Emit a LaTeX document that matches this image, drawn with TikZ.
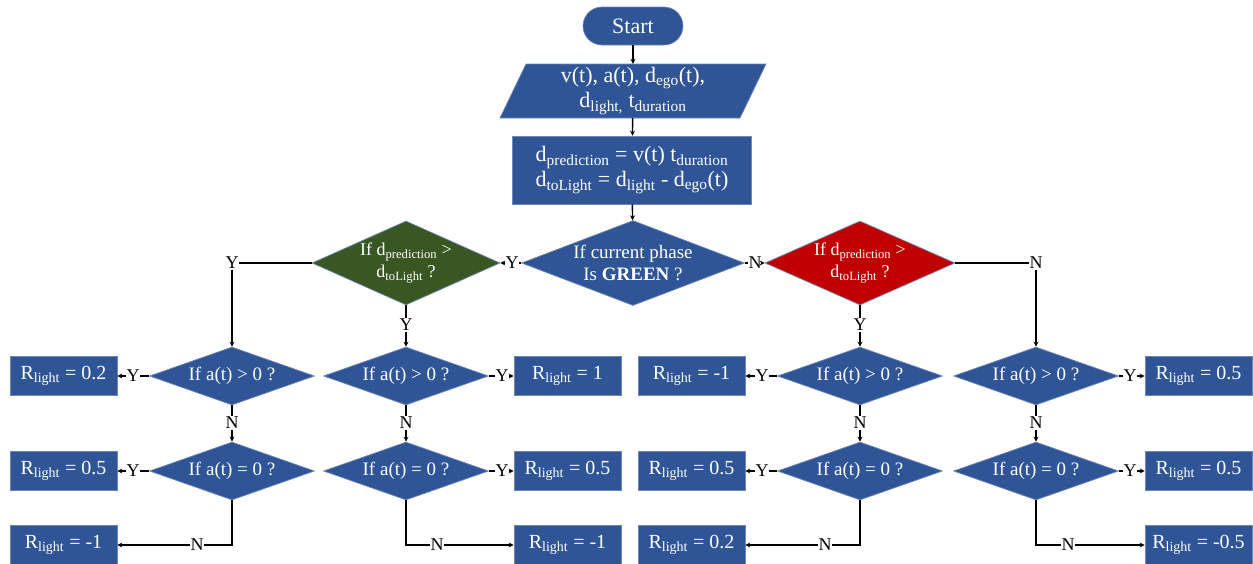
\documentclass[tikz,border=0pt]{standalone}
\usepackage{fontspec}
\setmainfont{Liberation Serif}
\usetikzlibrary{shapes.geometric,arrows.meta}
\definecolor{pblue}{HTML}{2F5597}
\definecolor{pgreen}{HTML}{385723}
\definecolor{pred}{HTML}{C00000}
\definecolor{pedge}{HTML}{6E87B5}
\newcommand{\fs}[2]{\fontsize{#1}{#2}\selectfont}
\newcommand{\sub}[1]{\textsubscript{#1}}
\tikzset{
  shp/.style={draw=pedge, line width=0.7pt, fill=pblue, text=white, inner sep=0pt},
  rbox/.style={shp, minimum width=107pt, minimum height=39pt, font=\fs{20}{22}},
  dia/.style={shp, diamond, minimum width=165pt, minimum height=58pt},
  dtxt/.style={text=white, align=center, font=\fs{19}{22}},
  lbl/.style={fill=white, inner sep=0.6pt, font=\fs{18}{20}},
  ln/.style={line width=1.4pt, draw=black},
  arr/.style={ln, -{Stealth[length=5pt,width=5pt]}},
}
\begin{document}
\begin{tikzpicture}[x=1pt,y=-1pt]
\path[use as bounding box] (0,0) rectangle (1253,563);

% top of the chart
\node[shp, rounded corners=19pt, minimum width=100pt, minimum height=38pt, font=\fs{22}{24}] (start) at (633,26) {Start};
% input parallelogram
\draw[shp] (500,118) -- (740,118) -- (766,64) -- (526,64) -- cycle;
\node[inner sep=0pt, minimum width=240pt, minimum height=54pt, text=white, align=center, font=\fs{22}{25}] (inp) at (633,91)
  {v(t), a(t), d\sub{ego}(t),\\ d\sub{light,} t\sub{duration}};
\node[shp, minimum width=239pt, minimum height=68pt, align=center, font=\fs{22}{25}] (calc) at (632,170)
  {d\sub{prediction} = v(t) t\sub{duration}\\ d\sub{toLight} = d\sub{light} - d\sub{ego}(t)};

% decisions on the phase
\node[dia, minimum width=223pt, minimum height=85pt,
      label={[dtxt]center:{If current phase\\ Is \textbf{GREEN} ?}}] (phase) at (633,263) {};
\node[dia, fill=pgreen, minimum width=188pt, minimum height=84pt,
      label={[dtxt, font=\fs{18}{22}]center:{If d\sub{prediction} >\\ d\sub{toLight} ?}}] (gd) at (406,263) {};
\node[dia, fill=pred, minimum width=190pt, minimum height=84pt,
      label={[dtxt, font=\fs{18}{22}]center:{If d\sub{prediction} >\\ d\sub{toLight} ?}}] (rd) at (860,263) {};

% acceleration checks
\foreach \i/\x in {1/232,2/406,3/860,4/1036}{
  \node[dia, label={[dtxt]center:{If a(t) > 0 ?}}] (a\i) at (\x,376) {};
  \node[dia, label={[dtxt]center:{If a(t) = 0 ?}}] (b\i) at (\x,471) {};
  \node[lbl] (n\i) at (\x,423) {N};
}

% rewards
\node[rbox] (r11) at (63.5,376) {R\sub{light} = 0.2};
\node[rbox] (r21) at (63.5,471) {R\sub{light} = 0.5};
\node[rbox] (r31) at (63.5,545) {R\sub{light} = -1};
\node[rbox] (r12) at (567.5,376) {R\sub{light} = 1};
\node[rbox] (r22) at (567.5,471) {R\sub{light} = 0.5};
\node[rbox] (r32) at (567.5,545) {R\sub{light} = -1};
\node[rbox] (r13) at (691.5,376) {R\sub{light} = -1};
\node[rbox] (r23) at (691.5,471) {R\sub{light} = 0.5};
\node[rbox] (r33) at (691.5,545) {R\sub{light} = 0.2};
\node[rbox] (r14) at (1198.5,376) {R\sub{light} = 0.5};
\node[rbox] (r24) at (1198.5,471) {R\sub{light} = 0.5};
\node[rbox] (r34) at (1198.5,545) {R\sub{light} = -0.5};

% branch labels
\node[lbl] (yg) at (512,263) {Y};
\node[lbl] (nr) at (755,263) {N};
\node[lbl] (yl) at (232,263) {Y};
\node[lbl] (nrr) at (1036,263) {N};
\node[lbl] (ygd) at (406,325) {Y};
\node[lbl] (yrd) at (860,325) {Y};
\foreach \i/\x in {1/133,2/502,3/762,4/1130}{
  \node[lbl] (ya\i) at (\x,376) {Y};
  \node[lbl] (yb\i) at (\x,471) {Y};
}
\node[lbl] (nb1) at (197,545) {N};
\node[lbl] (nb2) at (437,545) {N};
\node[lbl] (nb3) at (825,545) {N};
\node[lbl] (nb4) at (1068,545) {N};

% main flow
\draw[arr] (start) -- (inp);
\draw[arr] (inp) -- (calc);
\draw[arr] (calc) -- (phase);
\draw[ln] (phase.west) -- (yg);
\draw[arr] (yg) -- (gd.east);
\draw[ln] (phase.east) -- (nr);
\draw[arr] (nr) -- (rd.west);

\draw[ln] (gd.west) -- (yl);
\draw[arr] (yl) -- (a1.north);
\draw[ln] (gd.south) -- (ygd);
\draw[arr] (ygd) -- (a2.north);
\draw[ln] (rd.south) -- (yrd);
\draw[arr] (yrd) -- (a3.north);
\draw[ln] (rd.east) -- (nrr);
\draw[arr] (nrr) -- (a4.north);

% from the acceleration checks
\foreach \i in {1,2,3,4}{
  \draw[ln] (a\i.south) -- (n\i);
  \draw[arr] (n\i) -- (b\i.north);
  \draw[ln] (b\i.south) |- (nb\i);
}
\draw[ln] (a1.west) -- (ya1);  \draw[arr] (ya1) -- (r11.east);
\draw[ln] (b1.west) -- (yb1);  \draw[arr] (yb1) -- (r21.east);
\draw[arr] (nb1) -- (r31.east);
\draw[ln] (a2.east) -- (ya2);  \draw[arr] (ya2) -- (r12.west);
\draw[ln] (b2.east) -- (yb2);  \draw[arr] (yb2) -- (r22.west);
\draw[arr] (nb2) -- (r32.west);
\draw[ln] (a3.west) -- (ya3);  \draw[arr] (ya3) -- (r13.east);
\draw[ln] (b3.west) -- (yb3);  \draw[arr] (yb3) -- (r23.east);
\draw[arr] (nb3) -- (r33.east);
\draw[ln] (a4.east) -- (ya4);  \draw[arr] (ya4) -- (r14.west);
\draw[ln] (b4.east) -- (yb4);  \draw[arr] (yb4) -- (r24.west);
\draw[arr] (nb4) -- (r34.west);
\end{tikzpicture}
\end{document}
